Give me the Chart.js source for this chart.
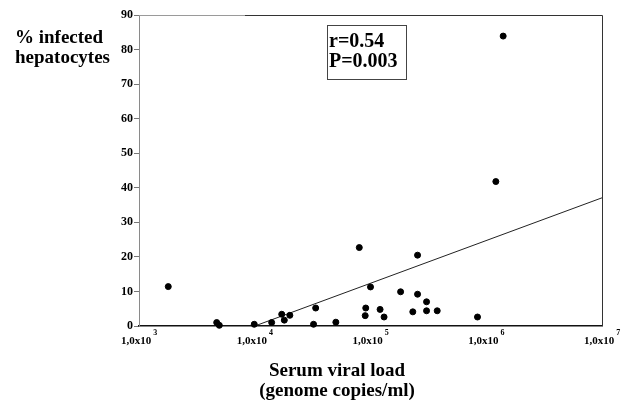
<!DOCTYPE html>
<html>
<head>
<meta charset="utf-8">
<script src="https://cdn.jsdelivr.net/npm/chart.js@4/dist/chart.umd.min.js"></script>
<style>
  html, body { margin: 0; padding: 0; background: #fff; }
  #wrap { width: 625px; height: 400px; position: relative; }
</style>
</head>
<body>
<div id="wrap"><canvas id="c" width="625" height="400"></canvas></div>
<script>
// ---- data ----
const viralLoad = [1790, 4690, 4940, 9900, 14000, 17100, 18000, 20100, 33600, 32200, 50200, 80000, 100000, 91000, 90000, 121000, 131000, 182000, 255000, 255000, 305000, 232000, 305000, 377000, 840000, 1210000, 1400000];
const infectedPct = [11.4, 1.0, 0.2, 0.5, 1.0, 3.4, 1.7, 3.1, 5.2, 0.5, 1.1, 22.7, 11.3, 5.2, 3.0, 4.8, 2.6, 9.9, 20.5, 9.2, 7.0, 4.1, 4.4, 4.4, 2.6, 41.8, 83.9];
const fitX = [10000, 10000000];
const fitY = [0.0, 37.1];
const xTickValues = [1e3, 1e4, 1e5, 1e6, 1e7];
const xTickExponents = ['3', '4', '5', '6', '7'];
const yTitleLines = ['% infected', 'hepatocytes'];
const xTitleLines = ['Serum viral load', '(genome copies/ml)'];
const statsLines = ['r=0.54', 'P=0.003'];

const SERIF = '"Liberation Serif", "Times New Roman", serif';

const decor = {
  id: 'decor',
  afterDraw(chart) {
    const ctx = chart.ctx;
    const xs = chart.scales.x;
    const ca = chart.chartArea;
    ctx.save();
    // top and right frame
    ctx.lineWidth = 1;
    ctx.strokeStyle = '#9a9a9a';
    ctx.beginPath();
    ctx.moveTo(ca.left, ca.top + 0.5); ctx.lineTo(245, ca.top + 0.5);
    ctx.stroke();
    ctx.strokeStyle = '#333';
    ctx.beginPath();
    ctx.moveTo(245, ca.top + 0.5); ctx.lineTo(ca.right + 0.5, ca.top + 0.5);
    ctx.lineTo(ca.right + 0.5, ca.bottom);
    ctx.stroke();

    // x tick labels with superscripts
    ctx.fillStyle = '#000';
    ctx.textBaseline = 'alphabetic';
    xTickValues.forEach((v, i) => {
      const px = xs.getPixelForValue(v);
      ctx.font = 'bold 11px ' + SERIF;
      const main = '1,0x10';
      const mw = ctx.measureText(main).width;
      ctx.font = 'bold 8px ' + SERIF;
      const sw = ctx.measureText(xTickExponents[i]).width;
      const total = mw + 2 + sw;
      const x0 = px - total / 2;
      ctx.font = 'bold 11px ' + SERIF;
      ctx.textAlign = 'left';
      ctx.fillText(main, x0, 344);
      ctx.font = 'bold 8px ' + SERIF;
      ctx.fillText(xTickExponents[i], x0 + mw + 2, 335);
    });

    // y title
    ctx.font = 'bold 19px ' + SERIF;
    ctx.textAlign = 'left';
    ctx.fillText(yTitleLines[0], 15, 43);
    ctx.fillText(yTitleLines[1], 15, 63);

    // x title
    ctx.textAlign = 'center';
    ctx.fillText(xTitleLines[0], 337, 376);
    ctx.fillText(xTitleLines[1], 337, 396);

    // stats box
    ctx.strokeStyle = '#444';
    ctx.lineWidth = 1;
    ctx.strokeRect(327.5, 25.5, 79, 54);
    ctx.font = 'bold 20px ' + SERIF;
    ctx.textAlign = 'left';
    ctx.fillText(statsLines[0], 329, 47);
    ctx.fillText(statsLines[1], 329, 67);
    ctx.restore();
  }
};

new Chart(document.getElementById('c'), {
  type: 'scatter',
  data: {
    datasets: [
      {
        label: 'patients',
        data: viralLoad.map((x, i) => ({ x: x, y: infectedPct[i] })),
        backgroundColor: '#000',
        borderColor: '#000',
        pointRadius: 3,
        pointHoverRadius: 3,
        clip: false
      },
      {
        type: 'line',
        label: 'fit',
        data: fitX.map((x, i) => ({ x: x, y: fitY[i] })),
        borderColor: '#222',
        borderWidth: 1,
        pointRadius: 0,
        fill: false
      }
    ]
  },
  options: {
    responsive: false,
    animation: false,
    events: [],
    layout: { padding: { left: 0, right: 23, top: 15, bottom: 0 } },
    plugins: { legend: { display: false }, tooltip: { enabled: false } },
    scales: {
      x: {
        type: 'logarithmic',
        min: 1e3,
        max: 1e7,
        grid: { display: false },
        border: { display: true, color: '#111', width: 1.5 },
        ticks: { display: false },
        afterFit(s) { s.height = 74; }
      },
      y: {
        type: 'linear',
        min: 0,
        max: 90,
        ticks: {
          stepSize: 10,
          color: '#000',
          padding: 1,
          font: { family: SERIF, size: 12, weight: 'bold' }
        },
        grid: { drawOnChartArea: false, drawTicks: true, tickLength: 5, color: '#777' },
        border: { display: true, color: '#8a8a8a', width: 1 },
        afterFit(s) { s.width = 139; }
      }
    }
  },
  plugins: [decor]
});
</script>
</body>
</html>
